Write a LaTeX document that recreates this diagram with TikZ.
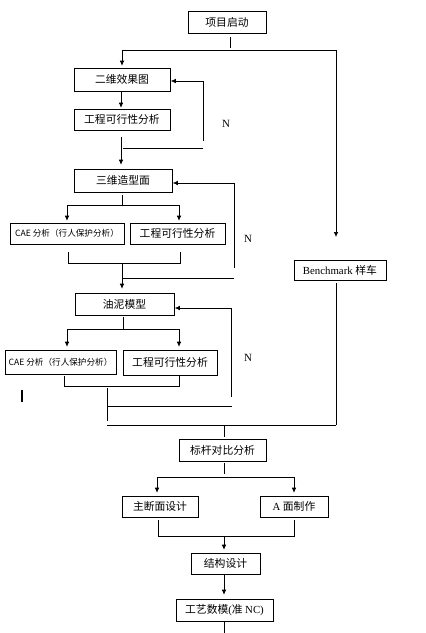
\documentclass[tikz,border=0pt]{standalone}
\usepackage{fontspec}
\setmainfont{Liberation Serif}
\newfontfamily\cjk{Noto Sans CJK SC}
\usetikzlibrary{arrows.meta}
\begin{document}
\begin{tikzpicture}[x=1pt,y=-1pt,
  box/.style={draw, line width=0.6pt, inner sep=0pt, font=\cjk\fontsize{10.8}{12}\selectfont},
  smallbox/.style={box, font=\cjk\fontsize{8.6}{10}\selectfont},
  ln/.style={line width=0.6pt},
  arr/.style={ln, -{Latex[length=5pt,width=4.5pt]}},
  lbl/.style={font=\fontsize{11}{12}\selectfont, inner sep=0pt}]
\useasboundingbox (0,0) rectangle (426,633);
% boxes
\node[box, minimum width=78pt, minimum height=22pt] (start) at (227,22) {项目启动};
\node[box, minimum width=96pt, minimum height=23pt] (b2d) at (122,79.5) {二维效果图};
\node[box, minimum width=96pt, minimum height=21pt] (f1) at (122,119.5) {工程可行性分析};
\node[box, minimum width=98pt, minimum height=23pt] (b3d) at (123,180.5) {三维造型面};
\node[smallbox, minimum width=114pt, minimum height=21pt] (cae1) at (67,233.5) {CAE 分析（行人保护分析）};
\node[box, minimum width=95pt, minimum height=21pt] (f2) at (177.5,233.5) {工程可行性分析};
\node[box, font=\fontsize{10.8}{12}\selectfont, minimum width=92pt, minimum height=20pt] (bench) at (340,270) {Benchmark {\cjk 样车}};
\node[box, minimum width=99pt, minimum height=22pt] (clay) at (124.5,304) {油泥模型};
\node[smallbox, minimum width=111pt, minimum height=24pt] (cae2) at (60.5,362) {CAE 分析（行人保护分析）};
\node[box, minimum width=94pt, minimum height=25pt] (f3) at (170,362.5) {工程可行性分析};
\node[box, minimum width=87pt, minimum height=22pt] (bm) at (222.5,450) {标杆对比分析};
\node[box, minimum width=76pt, minimum height=21pt] (mainsec) at (160,506.5) {主断面设计};
\node[box, minimum width=68pt, minimum height=21pt] (aface) at (294,506.5) {{\rmfamily A} 面制作};
\node[box, minimum width=69pt, minimum height=21pt] (struct) at (225.5,563.5) {结构设计};
\node[box, minimum width=97pt, minimum height=22pt] (proc) at (224.5,610) {工艺数模{\rmfamily(}准 {\rmfamily NC)}};
% labels
\node[lbl] (n1) at (226,124) {N};
\node[lbl] (n2) at (248,239) {N};
\node[lbl] (n3) at (248,358) {N};
% start -> split
\coordinate (s1) at (230,37); \coordinate (s2) at (230,48);
\draw[ln] (s1) -- (s2);
\coordinate (jL) at (122,50); \coordinate (jR) at (336,50); \coordinate (jRa) at (336,237);
\draw[ln] (jL) -- (jR);
\draw[arr, shorten >=2pt] (jL) -- (b2d.north);
\draw[arr] (jR) -- (jRa);
% b2d -> f1
\draw[arr, shorten >=1pt] ([xshift=-1pt]b2d.south) -- ([xshift=-1pt]f1.north);
% loop 1
\coordinate (l1a) at (121,137);
\coordinate (l1h1) at (123,148); \coordinate (l1h2) at (203,148);
\coordinate (l1v1) at (203,141); \coordinate (l1v2) at (203,81);
\draw[arr, shorten >=4pt] (l1a) -- (l1a |- b3d.north);
\draw[ln] (l1h1) -- (l1h2);
\draw[arr, shorten >=0.5pt] (l1v1) -- (l1v2) -- (l1v2 -| b2d.east);
% b3d split
\coordinate (c3a) at (122,195); \coordinate (c3b) at (122,205);
\coordinate (sp1L) at (67,205); \coordinate (sp1R) at (179,205);
\draw[ln] (c3a) -- (c3b);
\draw[ln] (sp1L) -- (sp1R);
\draw[arr, shorten >=2pt] (sp1L) -- (sp1L |- cae1.north);
\draw[arr, shorten >=2pt] (sp1R) -- (sp1R |- f2.north);
% merge 1
\coordinate (m1a) at (68,252); \coordinate (m1b) at (68,263);
\coordinate (m1c) at (180,263); \coordinate (m1d) at (180,252);
\draw[ln] (m1a) -- (m1b) -- (m1c) -- (m1d);
\coordinate (m1o) at (122,263);
\draw[arr, shorten >=4pt] (m1o) -- (m1o |- clay.north);
\coordinate (l2h1) at (122,278); \coordinate (l2h2) at (234,278);
\draw[ln] (l2h1) -- (l2h2);
\coordinate (l2v1) at (234,268); \coordinate (l2v2) at (234,183);
\draw[arr, shorten >=0.5pt] (l2v1) -- (l2v2) -- (l2v2 -| b3d.east);
% clay split
\coordinate (c4a) at (123,317); \coordinate (c4b) at (123,329);
\coordinate (sp2L) at (67,329); \coordinate (sp2R) at (179,329);
\draw[ln] (c4a) -- (c4b);
\draw[ln] (sp2L) -- (sp2R);
\draw[arr, shorten >=3pt] (sp2L) -- (sp2L |- cae2.north);
\draw[arr, shorten >=3pt] (sp2R) -- (sp2R |- f3.north);
% merge 2
\coordinate (m2a) at (64,376); \coordinate (m2b) at (64,386);
\coordinate (m2c) at (179,386); \coordinate (m2d) at (179,376);
\draw[ln] (m2a) -- (m2b) -- (m2c) -- (m2d);
% stray bar
\coordinate (bar1) at (22,390); \coordinate (bar2) at (22,402);
\draw[line width=2pt] (bar1) -- (bar2);
% loop 3
\coordinate (v3a) at (107,388); \coordinate (v3b) at (107,421);
\draw[ln] (v3a) -- (v3b);
\coordinate (l3h1) at (107,406); \coordinate (l3h2) at (232,406);
\draw[ln] (l3h1) -- (l3h2);
\coordinate (l3v1) at (231,397); \coordinate (l3v2) at (231,308);
\draw[arr, shorten >=0.5pt] (l3v1) -- (l3v2) -- (l3v2 -| clay.east);
% join with benchmark
\coordinate (jb1) at (107,425); \coordinate (jb2) at (336,425);
\draw[ln] (jb1) -- (jb2);
\draw[ln] ([xshift=-4pt,yshift=-3pt]bench.south) -- (jb2);
\coordinate (jb3) at (224,425); \coordinate (jb4) at (224,437);
\draw[ln] (jb3) -- (jb4);
% bm split
\coordinate (c5a) at (224,463); \coordinate (c5b) at (224,474);
\draw[ln] (c5a) -- (c5b);
\coordinate (sp3L) at (157,477); \coordinate (sp3R) at (294,477);
\draw[ln] (sp3L) -- (sp3R);
\draw[arr, shorten >=3pt] (sp3L) -- (sp3L |- mainsec.north);
\draw[arr, shorten >=3pt] (sp3R) -- (sp3R |- aface.north);
% merge 3
\coordinate (m3a) at (158,520); \coordinate (m3b) at (158,536);
\coordinate (m3c) at (294,536); \coordinate (m3d) at (294,520);
\draw[ln] (m3a) -- (m3b) -- (m3c) -- (m3d);
\coordinate (m3o) at (224,536);
\draw[arr, shorten >=3pt] (m3o) -- (m3o |- struct.north);
% struct -> proc
\draw[arr, shorten >=4pt] ([xshift=-1.5pt]struct.south) -- ([xshift=-0.5pt]proc.north);
\coordinate (pend) at (224,633);
\draw[ln] ([xshift=-0.5pt]proc.south) -- (pend);
\end{tikzpicture}
\end{document}
